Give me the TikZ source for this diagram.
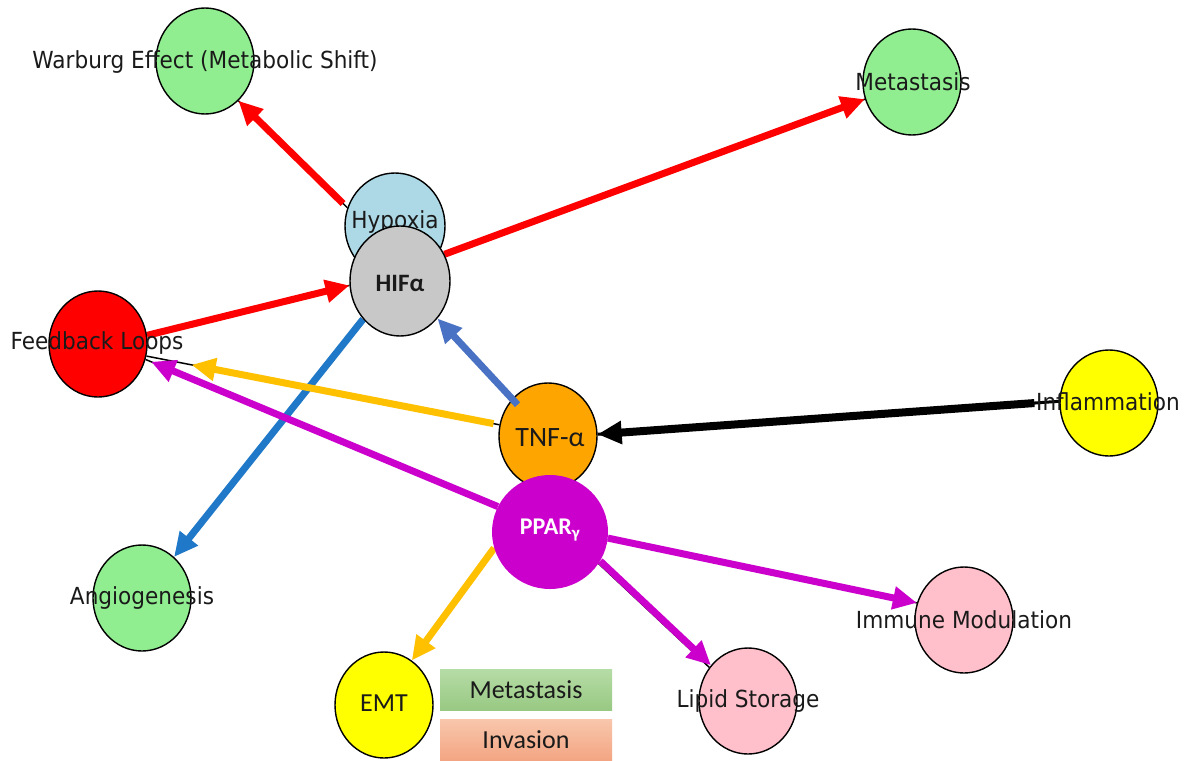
\documentclass[tikz,border=0pt]{standalone}
\usepackage{fontspec}
\setmainfont{DejaVu Sans}[FakeStretch=0.92]
\newfontfamily\calfont{Carlito}
\usetikzlibrary{shapes.geometric,arrows.meta}
\pgfdeclarelayer{bg}
\pgfdeclarelayer{edges}
\pgfsetlayers{bg,edges,main}
\definecolor{lgreen}{HTML}{90EE90}
\definecolor{lblue}{HTML}{ADD8E6}
\definecolor{hifgray}{HTML}{C8C8C8}
\definecolor{nred}{HTML}{FF0000}
\definecolor{norange}{HTML}{FFA500}
\definecolor{nyellow}{HTML}{FFFF00}
\definecolor{npink}{HTML}{FFC0CB}
\definecolor{nmag}{HTML}{CC00CC}
\definecolor{yel}{HTML}{FFC000}
\definecolor{blueA}{HTML}{1F78C8}
\definecolor{blueB}{HTML}{4A72C4}
\definecolor{txt}{HTML}{1A1A1A}
\definecolor{gtop}{HTML}{B6DCA6}
\definecolor{gbot}{HTML}{98C983}
\definecolor{otop}{HTML}{F8C6AC}
\definecolor{obot}{HTML}{F3A582}
\tikzset{
  bub/.style={ellipse, draw=black, line width=1.4pt, minimum width=98pt, minimum height=106pt, inner sep=0pt},
  lbl/.style={font=\fontsize{23.5}{28}\selectfont, text=txt, inner sep=0pt},
  cl/.style={font=\calfont\fontsize{28}{32}\selectfont, text=txt, inner sep=0pt},
  base/.style={draw=black, line width=1.5pt},
  arr/.style={line width=7pt, -{Triangle[length=24pt,width=22pt]}},
  legbox/.style={minimum width=172pt, minimum height=41pt, inner sep=0pt, font=\calfont\fontsize{26}{30}\selectfont, text=txt}
}
\begin{document}
\begin{tikzpicture}[x=1pt,y=-1pt]
\begin{pgfonlayer}{bg}
\useasboundingbox[fill=white] (0,0) rectangle (1191,760);
\end{pgfonlayer}

% nodes
\node[bub, fill=lgreen] (warb) at (205,61) {};
\node[lbl] (warbt) at (205,62) {Warburg Effect (Metabolic Shift)};
\node[bub, fill=lgreen] (meta) at (912,82) {};
\node[lbl] (metat) at (913,82) {Metastasis};
\node[bub, fill=lblue, minimum width=100pt] (hyp) at (395,226) {};
\node[lbl] (hypt) at (395,222) {Hypoxia};
\node[bub, fill=hifgray, minimum width=100pt, minimum height=110pt] (hif) at (400,281) {};
\node[cl, font=\calfont\bfseries\fontsize{25}{28}\selectfont] (hift) at (400,283) {HIFα};
\node[bub, fill=nred] (fb) at (98,344) {};
\node[lbl] (fbt) at (97,343) {Feedback Loops};
\node[bub, fill=norange] (tnf) at (548,436) {};
\node[cl] (tnft) at (550,438) {TNF-α};
\node[bub, fill=nyellow] (infl) at (1109,403) {};
\node[lbl] (inflt) at (1108,402) {Inflammation};
\node[ellipse, fill=nmag, minimum width=116pt, minimum height=114pt, inner sep=0pt] (ppar) at (550,532) {};
\node[cl, font=\calfont\bfseries\fontsize{24}{28}\selectfont, text=white] (ppart) at (550,530) {PPAR\textsubscript{γ}};
\node[bub, fill=lgreen] (ang) at (142,598) {};
\node[lbl] (angt) at (142,598) {Angiogenesis};
\node[bub, fill=nyellow] (emt) at (384,705) {};
\node[cl, font=\calfont\fontsize{26}{30}\selectfont] (emtt) at (384,703) {EMT};
\node[bub, fill=npink] (lip) at (748,701) {};
\node[lbl] (lipt) at (748,701) {Lipid Storage};
\node[bub, fill=npink] (imm) at (964,620) {};
\node[lbl] (immt) at (964,620) {Immune Modulation};

% legend boxes
\node[legbox, top color=gtop, bottom color=gbot] (legm) at (526,689.5) {Metastasis};
\node[legbox, top color=otop, bottom color=obot] (legi) at (526,740) {Invasion};

% edges
\begin{pgfonlayer}{edges}
\draw[base] (hyp.159) -- (warb.-50);
\draw[arr, nred, shorten <=6pt] (hyp.159) -- (warb.-50);
\draw[base] (hif.31) -- (meta.200);
\draw[arr, nred] (hif.31) -- (meta.200);
\draw[base] (fb.10) -- (hif.185);
\draw[arr, nred] (fb.10) -- (hif.185);
\draw[arr, blueA] (hif.226) -- (ang.52);
\draw[base] (tnf.167) -- (fb.-14);
\draw[arr, yel, shorten <=6pt, shorten >=46pt] (tnf.167) -- (fb.-14);
\draw[base, line width=3pt] (infl.178) -- (tnf.2);
\draw[arr, black, line width=8pt, shorten <=25pt] (infl.178) -- (tnf.2);
\draw[base] (ppar.154) -- (fb.-18);
\draw[arr, nmag, shorten >=6pt] (ppar.154) -- (fb.-18);
\draw[arr, yel] (ppar.196) -- (emt.58);
\draw[base] (ppar.-7) -- (imm.160);
\draw[arr, nmag] (ppar.-6) -- (imm.160);
\draw[base] (ppar.-33) -- (lip.139);
\draw[arr, nmag] (ppar.-30) -- (lip.136);
\end{pgfonlayer}
\draw[arr, blueB, shorten <=-8pt] (tnf.134) -- (hif.-45);
\end{tikzpicture}
\end{document}
